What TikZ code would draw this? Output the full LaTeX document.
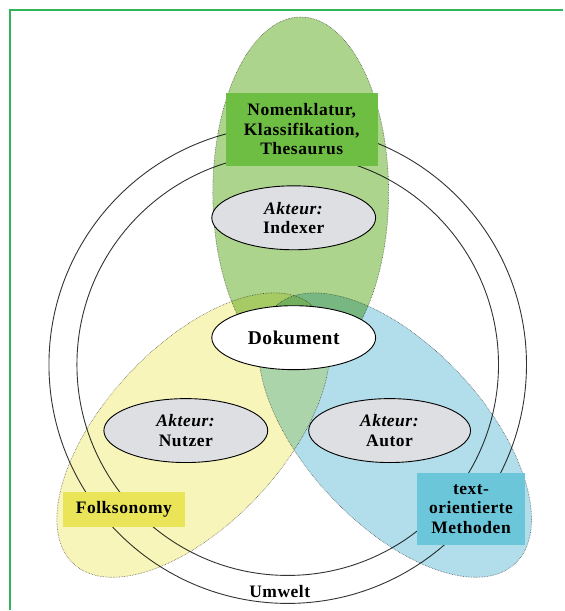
\documentclass[tikz,border=0pt]{standalone}
\usepackage{fontspec}
\usepackage{xcolor}
\usepackage{tikz}
\usetikzlibrary{shapes.geometric}

\newfontfamily\lblfont{Liberation Serif}[LetterSpace=3]

\definecolor{zonegreen}{RGB}{172,212,140}
\definecolor{zoneyellow}{RGB}{247,245,185}
\definecolor{zoneblue}{RGB}{178,221,235}
\definecolor{boxgreen}{RGB}{110,190,68}
\definecolor{boxyellow}{RGB}{233,228,88}
\definecolor{boxblue}{RGB}{108,198,218}
\definecolor{actorgrey}{RGB}{222,223,226}
\definecolor{framegreen}{RGB}{50,180,90}

\begin{document}
\begin{tikzpicture}[x=1pt, y=-1pt,
    lbl/.style={font=\lblfont\bfseries\fontsize{17.5}{19.5}\selectfont, align=center},
    zone/.style={ellipse, draw=black!60, densely dotted, line width=0.6pt, inner sep=0pt},
    ring/.style={draw=black!80, line width=0.9pt},
    actor/.style={lbl, ellipse, draw=black, line width=0.9pt, fill=actorgrey, inner sep=0pt, minimum width=164pt, minimum height=64pt},
    method/.style={lbl, rectangle, inner sep=0pt}]
    % background and frame
    \fill[white] (0,0) rectangle (564,611);
    \draw[framegreen, line width=1.2pt] (564,10) -- (10,10) -- (10,611);

    % Umwelt rings
    \coordinate (mitte) at (288,365);
    \draw[ring] (mitte) circle [radius=239pt];
    \draw[ring] (mitte) circle [radius=211pt];

    % Zones
    \begin{scope}[blend mode=multiply]
        \node (indexzone) [zone, fill=zonegreen, minimum width=176pt, minimum height=352pt] at (301,193) {};
        \node (nutzerzone) [zone, fill=zoneyellow, minimum width=352pt, minimum height=178pt, rotate=47] at (193.5,435.5) {};
        \node (autorzone) [zone, fill=zoneblue, minimum width=352pt, minimum height=178pt, rotate=-47] at (395.5,435.5) {};
    \end{scope}

    % Methods
    \node (klass) [method, fill=boxgreen, minimum width=152pt, minimum height=73pt] at (302,129.5) {Nomenklatur,\\Klassifikation,\\Thesaurus};
    \node (folk) [method, fill=boxyellow, minimum width=122pt, minimum height=36pt] at (124,510) {Folksonomy};
    \node (textmeth) [method, fill=boxblue, minimum width=109pt, minimum height=73pt] at (471.5,509.5) {text-\\orientierte\\Methoden};

    % Actors
    \node (indexer) [actor] at (294,218) {\textit{Akteur:}\\Indexer};
    \node (nutzer) [actor] at (186,431) {\textit{Akteur:}\\Nutzer};
    \node (autor) [actor, minimum width=162pt] at (390,431) {\textit{Akteur:}\\Autor};
    \node (dokument) [actor, fill=white, font=\lblfont\bfseries\fontsize{19.5}{21}\selectfont] at (294,338) {Dokument};

    \node (umwelt) [lbl] at (280,592) {Umwelt};
\end{tikzpicture}
\end{document}
